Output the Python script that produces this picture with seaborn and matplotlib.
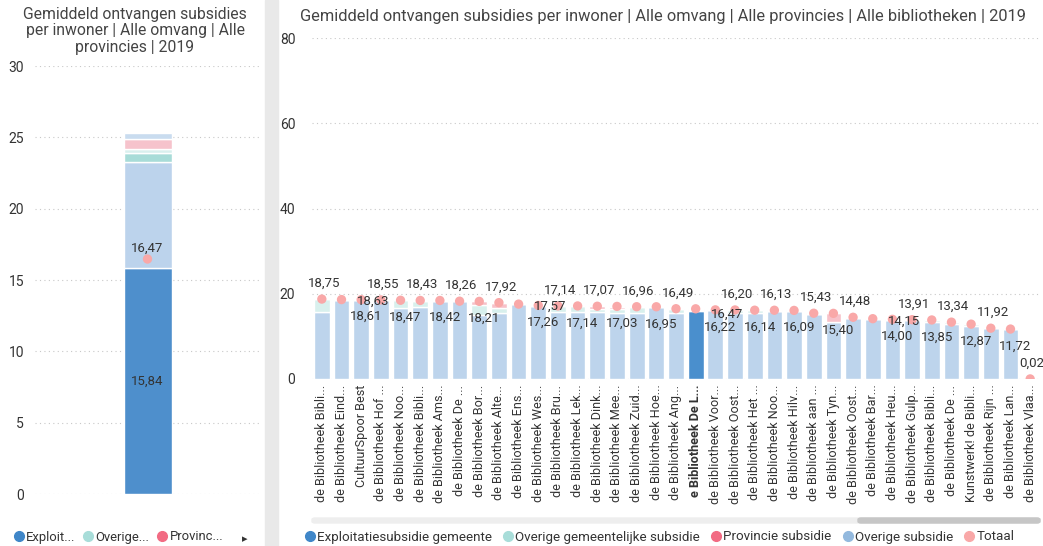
import numpy as np
import matplotlib.pyplot as plt
import seaborn as sns
from matplotlib.lines import Line2D
from matplotlib.patches import Rectangle, FancyBboxPatch

# ---- data ----
bibliotheken = [
    "de Bibliotheek Bibli...", "de Bibliotheek Eind...", "CultuurSpoor Best",
    "de Bibliotheek Hof ...", "de Bibliotheek Noo...", "de Bibliotheek Bibli...",
    "de Bibliotheek Ams...", "de Bibliotheek De ...", "de Bibliotheek Bor...",
    "de Bibliotheek Alte...", "de Bibliotheek Ens...", "de Bibliotheek Wes...",
    "de Bibliotheek Bru...", "de Bibliotheek Lek...", "de Bibliotheek Dink...",
    "de Bibliotheek Mee...", "de Bibliotheek Zuid...", "de Bibliotheek Hoe...",
    "de Bibliotheek Ang...", "e Bibliotheek De L...", "de Bibliotheek Voor...",
    "de Bibliotheek Oost...", "de Bibliotheek Het ...", "de Bibliotheek Noo...",
    "de Bibliotheek Hilv...", "de Bibliotheek aan ...", "de Bibliotheek Tyn...",
    "de Bibliotheek Oost...", "de Bibliotheek Bar...", "de Bibliotheek Heu...",
    "de Bibliotheek Gulp...", "de Bibliotheek Bibli...", "de Bibliotheek De ...",
    "Kunstwerk! de Bibli...", "de Bibliotheek Rijn ...", "de Bibliotheek Lan...",
    "de Bibliotheek Vlaa...",
]
totaal = [18.75, 18.63, 18.61, 18.55, 18.47, 18.43, 18.42, 18.26, 18.21, 17.92,
          17.57, 17.26, 17.14, 17.14, 17.07, 17.03, 16.96, 16.95, 16.49, 16.47,
          16.22, 16.20, 16.14, 16.13, 16.09, 15.43, 15.40, 14.48, 14.15, 14.00,
          13.91, 13.85, 13.34, 12.87, 11.92, 11.72, 0.02]
exploitatie = [15.80, 18.55, 18.50, 18.45, 16.60, 17.00, 18.35, 18.20, 15.00, 15.40,
               17.50, 17.20, 15.80, 15.80, 15.70, 15.60, 15.60, 16.90, 15.60, 15.84,
               16.15, 15.40, 15.50, 16.05, 16.00, 15.35, 13.40, 14.40, 14.10, 13.95,
               13.85, 13.30, 12.90, 12.40, 11.85, 11.65, 0.00]
overige_gemeentelijk = [2.90, 0, 0, 0, 1.85, 1.40, 0, 0, 2.40, 1.20,
                        0, 0, 1.30, 1.30, 0.80, 0.90, 1.30, 0, 0.85, 0.30,
                        0, 0.75, 0.60, 0, 0, 0, 0, 0, 0, 0,
                        0, 0.50, 0.40, 0.45, 0, 0, 0]
provincie = [0, 0, 0, 0, 0, 0, 0, 0, 0.80, 1.20,
             0, 0, 0, 0, 0.55, 0.50, 0, 0, 0, 0.33,
             0, 0, 0, 0, 0, 0, 2.00, 0, 0, 0,
             0, 0, 0, 0, 0, 0, 0.02]
overige = [0.05, 0.08, 0.11, 0.10, 0.02, 0.03, 0.07, 0.06, 0.01, 0.12,
           0.07, 0.06, 0.04, 0.04, 0.02, 0.03, 0.06, 0.05, 0.04, 0.00,
           0.07, 0.05, 0.04, 0.08, 0.09, 0.08, 0.00, 0.08, 0.05, 0.05,
           0.06, 0.05, 0.04, 0.02, 0.07, 0.07, 0.00]
geselecteerd = 19

# left panel: stacked segments of the single bar
links_segmenten = [15.84, 7.45, 0.58, 0.33, 0.70, 0.37]
links_totaal = 16.47

reeksen = ["Exploitatiesubsidie gemeente", "Overige gemeentelijke subsidie",
           "Provincie subsidie", "Overige subsidie", "Totaal"]
reeksen_kort = ["Exploit...", "Overige...", "Provinc..."]

# ---- style ----
legend_kleuren = ["#3f86c8", "#a8ddd9", "#f26b83", "#93b9de", "#f9a8a8"]
vaag_kleuren = ["#bdd4ec", "#d8f0ed", "#f7c1c9", "#bdd4ec"]
sterk_kleuren = ["#4a8fcd", "#a6dcd8", "#f3768a", "#8fb6de"]
links_kleuren = ["#4e8fcc", "#bcd3ec", "#a8dcd8", "#d9f0ee", "#f6c3cc", "#c9dcef"]
punt_kleur = "#f9a8a8"
tekst = "#333333"

sns.set_theme(style="white")
plt.rcParams['font.family'] = ['Roboto', 'DejaVu Sans']

W, H = 1043, 546
fig = plt.figure(figsize=(W / 100, H / 100), dpi=100)


def fx(px):
    return px / W


def fy(py):
    return 1 - py / H


def nl(v):
    return f"{v:.2f}".replace('.', ',')


def grid_style(ax):
    ax.grid(axis='y', linestyle=(0, (1, 3)), color='#c8c8c8', linewidth=0.8)
    ax.grid(axis='x', visible=False)
    ax.set_axisbelow(True)
    sns.despine(ax=ax, left=True, bottom=True)
    ax.tick_params(axis='y', length=0, labelsize=10, labelcolor=tekst, pad=8)
    ax.set_xlabel("")
    ax.set_ylabel("")


# ---- left panel ----
ax_l = fig.add_axes([fx(35), fy(494), fx(260) - fx(35), (494 - 66) / H])
onder = 0.0
for waarde, kleur in zip(links_segmenten, links_kleuren):
    sns.barplot(x=[0], y=[waarde], bottom=[onder], color=kleur, width=0.8,
                saturation=1, errorbar=None, ax=ax_l)
    onder += waarde
sns.scatterplot(x=[0], y=[links_totaal], color=punt_kleur, s=45,
                edgecolor='none', zorder=5, ax=ax_l)
ax_l.text(0, links_totaal + 0.75, nl(links_totaal), ha='center', va='center',
          fontsize=9.5, color=tekst, zorder=6)
ax_l.text(0, links_segmenten[0] / 2, nl(links_segmenten[0]), ha='center',
          va='center', fontsize=9.5, color=tekst, zorder=6)
ax_l.set_xlim(-1.875, 1.875)
ax_l.set_ylim(0, 30)
ax_l.set_yticks(range(0, 31, 5))
ax_l.set_xticks([])
grid_style(ax_l)

fig.text(fx(135), fy(7), "Gemiddeld ontvangen subsidies\nper inwoner | Alle omvang | Alle\nprovincies | 2019",
         ha='center', va='top', fontsize=11.3, color='#444444', linespacing=1.12)

# ---- right panel ----
ax_r = fig.add_axes([fx(312), fy(379), fx(1040) - fx(312), (379 - 38) / H])
posities = np.arange(len(totaal))
onder = np.zeros(len(totaal))
for waarden, vaag, sterk in zip([exploitatie, overige_gemeentelijk, provincie, overige],
                                vaag_kleuren, sterk_kleuren):
    sns.barplot(x=posities, y=waarden, bottom=onder, color=vaag, width=0.8,
                saturation=1, errorbar=None, ax=ax_r)
    ax_r.containers[-1][geselecteerd].set_facecolor(sterk)
    onder = onder + np.array(waarden)

sns.scatterplot(x=posities, y=totaal, color=punt_kleur, s=45, edgecolor='none',
                zorder=5, ax=ax_r)

# label placement alternates above / inside, with a shifted label every 9 bars
for i, v in enumerate(totaal):
    stap = (i - 1) % 9
    if stap == 0:
        x, y = i + 1.6, v - (1.4 if i == geselecteerd else 0.5)
    elif stap % 2 == 1:
        x, y = i + 0.25, v - 4.0
    else:
        x, y = i + 0.1, v + 3.7
    ax_r.text(x, y, nl(v), ha='center', va='center', fontsize=9.5, color=tekst, zorder=6)

ax_r.set_xlim(-0.5, len(totaal) - 0.5)
ax_r.set_ylim(0, 80)
ax_r.set_yticks(range(0, 81, 20))
ax_r.set_xticks(posities)
ax_r.set_xticklabels(bibliotheken, rotation=90, fontsize=9.1, color=tekst)
ax_r.tick_params(axis='x', length=0, pad=4)
ax_r.get_xticklabels()[geselecteerd].set_fontweight('bold')
grid_style(ax_r)
ax_r.tick_params(axis='y', pad=12)

fig.text(fx(300), fy(17), "Gemiddeld ontvangen subsidies per inwoner | Alle omvang | Alle provincies | Alle bibliotheken | 2019",
         ha='left', va='center', fontsize=11.8, color='#444444')

# ---- separator and scrollbar ----
fig.add_artist(Rectangle((fx(265), 0), fx(278) - fx(265), 1, transform=fig.transFigure,
                         color='#e9e9e9', zorder=0))
fig.add_artist(FancyBboxPatch((fx(312), fy(523)), fx(1040) - fx(312), 5 / H,
                              boxstyle="round,pad=0,rounding_size=0.003",
                              transform=fig.transFigure, color='#eeeeee', zorder=0))
fig.add_artist(FancyBboxPatch((fx(858), fy(523)), fx(1040) - fx(858), 5 / H,
                              boxstyle="round,pad=0,rounding_size=0.003",
                              transform=fig.transFigure, color='#c6c6c6', zorder=1))

# ---- legends ----
handles = [Line2D([], [], marker='o', linestyle='', color=c, markersize=7) for c in legend_kleuren]
fig.legend(handles, reeksen, loc='center left', bbox_to_anchor=(fx(303), fy(537)),
           ncol=5, frameon=False, fontsize=9.6, handletextpad=0.05, columnspacing=0.7,
           borderaxespad=0, borderpad=0, labelcolor=tekst, handlelength=1.0)
fig.legend(handles[:3], reeksen_kort, loc='center left', bbox_to_anchor=(fx(12), fy(537)),
           ncol=3, frameon=False, fontsize=9.4, handletextpad=0.05, columnspacing=0.5,
           borderaxespad=0, borderpad=0, labelcolor=tekst, handlelength=1.0)
fig.text(fx(245), fy(539), "▸", ha='center', va='center', fontsize=8, color=tekst)

fig.savefig("out.png", dpi=100, facecolor='white')
